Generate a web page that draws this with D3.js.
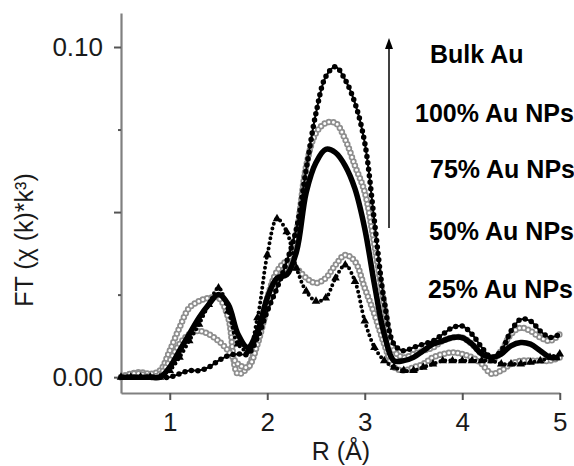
<!DOCTYPE html>
<html>
<head>
<meta charset="utf-8">
<script src="https://cdn.jsdelivr.net/npm/d3@7"></script>
<style>
  body { margin: 0; background: #fff; }
  svg { font-family: "Liberation Sans", Arial, sans-serif; }
</style>
</head>
<body>
<svg width="574" height="466"></svg>
<script>
// R grid (Å)
const rValues = [0.5, 0.6, 0.7, 0.8, 0.9, 1.0, 1.1, 1.2, 1.3, 1.4,
  1.5, 1.6, 1.7, 1.8, 1.9, 2.0, 2.1, 2.2, 2.3, 2.4,
  2.5, 2.6, 2.7, 2.8, 2.9, 3.0, 3.1, 3.2, 3.3, 3.4,
  3.5, 3.6, 3.7, 3.8, 3.9, 4.0, 4.1, 4.2, 4.3, 4.4,
  4.5, 4.6, 4.7, 4.8, 4.9, 5.0];

const bulkAu = [0.000, 0.000, 0.000, 0.000, 0.000, 0.000, 0.001, 0.002, 0.002, 0.003,
  0.005, 0.0065, 0.007, 0.007, 0.012, 0.020, 0.027, 0.035, 0.045, 0.063,
  0.080, 0.091, 0.094, 0.090, 0.083, 0.071, 0.047, 0.023, 0.010, 0.008,
  0.009, 0.010, 0.011, 0.013, 0.015, 0.0155, 0.013, 0.009, 0.006, 0.008,
  0.014, 0.0175, 0.017, 0.014, 0.012, 0.013];

const np100 = [0.000, 0.001, 0.001, 0.000, 0.001, 0.005, 0.010, 0.013, 0.014, 0.013,
  0.011, 0.008, 0.004, 0.003, 0.010, 0.021, 0.029, 0.034, 0.044, 0.064,
  0.074, 0.077, 0.077, 0.072, 0.064, 0.056, 0.040, 0.022, 0.008, 0.006,
  0.007, 0.008, 0.009, 0.011, 0.012, 0.012, 0.010, 0.007, 0.005, 0.008,
  0.013, 0.015, 0.014, 0.012, 0.011, 0.013];

const np75 = [0.000, 0.000, 0.000, 0.000, 0.000, 0.003, 0.008, 0.013, 0.018, 0.022,
  0.025, 0.022, 0.013, 0.009, 0.014, 0.024, 0.030, 0.031, 0.038, 0.056,
  0.065, 0.069, 0.068, 0.064, 0.057, 0.045, 0.028, 0.013, 0.005, 0.005,
  0.006, 0.008, 0.010, 0.011, 0.012, 0.012, 0.010, 0.007, 0.006, 0.007,
  0.0095, 0.0105, 0.010, 0.008, 0.006, 0.006];

const np50 = [0.000, 0.001, 0.0015, 0.001, 0.002, 0.008, 0.015, 0.021, 0.023, 0.024,
  0.024, 0.018, 0.001, 0.003, 0.012, 0.024, 0.032, 0.035, 0.033, 0.030,
  0.0285, 0.030, 0.034, 0.037, 0.035, 0.027, 0.019, 0.010, 0.003, 0.002,
  0.003, 0.004, 0.006, 0.007, 0.0075, 0.007, 0.006, 0.004, 0.001, 0.002,
  0.004, 0.005, 0.005, 0.005, 0.005, 0.006];

const np25 = [0.000, 0.000, 0.000, 0.000, 0.000, 0.002, 0.006, 0.011, 0.016, 0.022,
  0.027, 0.020, 0.010, 0.008, 0.018, 0.037, 0.048, 0.044, 0.033, 0.026,
  0.023, 0.024, 0.030, 0.034, 0.029, 0.017, 0.009, 0.005, 0.003, 0.002,
  0.002, 0.003, 0.004, 0.005, 0.005, 0.005, 0.005, 0.005, 0.005, 0.004,
  0.004, 0.004, 0.0045, 0.005, 0.006, 0.007];

const legendLabels = ['Bulk Au', '100% Au NPs', '75% Au NPs', '50% Au NPs', '25% Au NPs'];
const xTicks = [1, 2, 3, 4, 5];
const yMajorTicks = [0, 0.05, 0.10];
const yMinorTicks = [0.025, 0.075];
const yLabelled = [0, 0.10];

const svg = d3.select('svg');

const x = d3.scaleLinear().domain([0.5, 5]).range([121, 559.75]);
const y = d3.scaleLinear().domain([-0.0048, 0.1103]).range([393, 13]);

const line = d3.line()
  .x(d => x(d[0]))
  .y(d => y(d[1]))
  .curve(d3.curveCatmullRom.alpha(0.5));

const pts = arr => rValues.map((r, i) => [r, arr[i]]);

// axes
svg.append('g')
  .attr('transform', `translate(${x(0.5)},0)`)
  .call(d3.axisLeft(y).tickValues(yMajorTicks).tickSize(7).tickSizeOuter(0).tickPadding(11)
    .tickFormat(d => yLabelled.includes(d) ? d3.format('.2f')(d) : ''));
svg.append('g')
  .attr('transform', `translate(${x(0.5)},0)`)
  .call(d3.axisLeft(y).tickValues(yMinorTicks).tickSize(3).tickSizeOuter(0).tickFormat(''))
  .select('.domain').remove();

svg.append('g')
  .attr('transform', `translate(0,${y.range()[0]})`)
  .call(d3.axisBottom(x).tickValues(xTicks).tickSize(7).tickSizeOuter(0).tickPadding(13)
    .tickFormat(d3.format('d')));

svg.selectAll('.domain').attr('stroke', '#808080').attr('stroke-width', 2.2);
svg.selectAll('.tick line').attr('stroke', '#555').attr('stroke-width', 2);
svg.selectAll('.tick text').attr('font-size', 26).attr('fill', '#1a1a1a')
  .attr('font-family', '"Liberation Sans", Arial, sans-serif');

// gray open circles
function ringSeries(arr) {
  const g = svg.append('g');
  g.append('path').attr('d', line(pts(arr)))
    .attr('fill', 'none').attr('stroke', '#8e8e8e').attr('stroke-width', 6.5)
    .attr('stroke-linecap', 'round').attr('stroke-dasharray', '0 4.5');
  g.append('path').attr('d', line(pts(arr)))
    .attr('fill', 'none').attr('stroke', '#fff').attr('stroke-width', 3)
    .attr('stroke-linecap', 'round').attr('stroke-dasharray', '0 4.5');
}

ringSeries(np50);
ringSeries(np100);

// 25% : triangles
svg.append('path').attr('d', line(pts(np25)))
  .attr('fill', 'none').attr('stroke', '#000').attr('stroke-width', 4)
  .attr('stroke-linecap', 'round').attr('stroke-dasharray', '0 5');
svg.append('g').selectAll('path')
  .data(pts(np25))
  .enter()
  .append('path')
  .attr('d', d3.symbol(d3.symbolTriangle, 32))
  .attr('transform', d => `translate(${x(d[0])},${y(d[1])})`)
  .attr('fill', '#000');

// 75% : dense filled
svg.append('path').attr('d', line(pts(np75)))
  .attr('fill', 'none').attr('stroke', '#000').attr('stroke-width', 5.5)
  .attr('stroke-linejoin', 'round');

// bulk : small filled dots
svg.append('path').attr('d', line(pts(bulkAu)))
  .attr('fill', 'none').attr('stroke', '#000').attr('stroke-width', 2);
svg.append('path').attr('d', line(pts(bulkAu)))
  .attr('fill', 'none').attr('stroke', '#000').attr('stroke-width', 5.5)
  .attr('stroke-linecap', 'round').attr('stroke-dasharray', '0 6.5');

// legend text
const legendPos = [[430, 63], [415, 122], [430, 178], [429, 240], [428, 298]];
svg.append('g').selectAll('text')
  .data(legendLabels)
  .enter()
  .append('text')
  .attr('x', (d, i) => legendPos[i][0])
  .attr('y', (d, i) => legendPos[i][1])
  .attr('font-size', 25)
  .attr('font-weight', 'bold')
  .attr('fill', '#000')
  .text(d => d);

// arrow
svg.append('line').attr('x1', 389).attr('x2', 389).attr('y1', 228).attr('y2', 46)
  .attr('stroke', '#000').attr('stroke-width', 1.5);
svg.append('path').attr('d', 'M389,38 L385,49 L393,49 Z').attr('fill', '#000');

// axis titles
svg.append('text')
  .attr('x', 341).attr('y', 460)
  .attr('text-anchor', 'middle')
  .attr('font-size', 25)
  .attr('fill', '#1a1a1a')
  .text('R (Å)');

svg.append('text')
  .attr('transform', 'translate(33,240) rotate(-90)')
  .attr('text-anchor', 'middle')
  .attr('font-size', 25)
  .attr('fill', '#1a1a1a')
  .text('FT (χ (k)*k³)');
</script>
</body>
</html>
